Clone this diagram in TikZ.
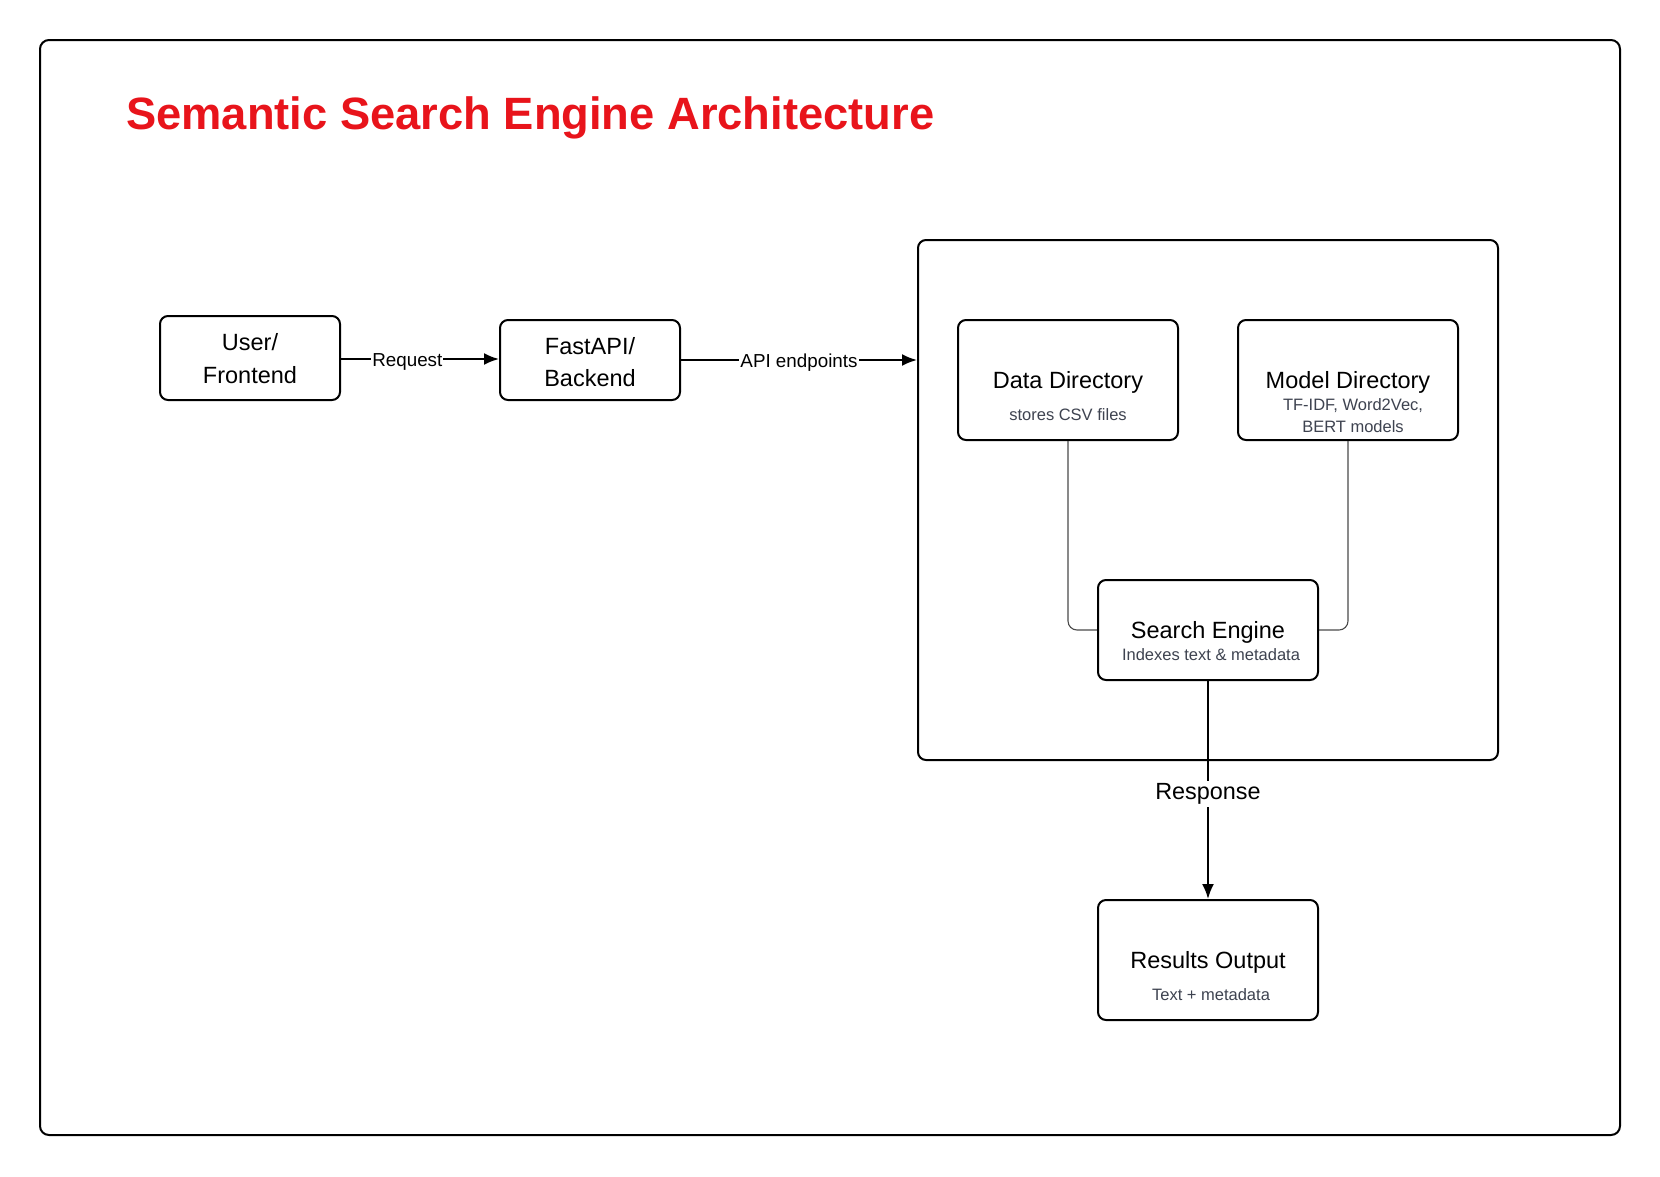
\documentclass[tikz,border=0pt]{standalone}
\usepackage{fontspec}
\setmainfont{Liberation Sans}
\usetikzlibrary{arrows.meta}
\definecolor{titlered}{HTML}{E8141B}
\definecolor{subgray}{HTML}{3E4350}
\definecolor{linegray}{HTML}{4A4A4A}
\begin{document}
\begin{tikzpicture}[x=1pt,y=-1pt,
  box/.style={draw=black, line width=2pt, rounded corners=8pt, inner sep=0pt, fill=white},
  maintext/.style={font=\fontsize{23.5}{28}\selectfont, inner sep=0pt, anchor=base},
  subtext/.style={font=\fontsize{16.5}{20}\selectfont, text=subgray, inner sep=0pt, anchor=base},
  flow/.style={draw=black, line width=2pt, -{Latex[length=15pt,width=12pt]}},
  feed/.style={draw=linegray, line width=1.1pt, rounded corners=9pt},
  elabel/.style={fill=white, inner sep=1pt, font=\fontsize{18.8}{22}\selectfont, yshift=-2.5pt}
]
\useasboundingbox (0,0) rectangle (1660,1176);
% outer frame
\node[draw=black, line width=2pt, rounded corners=9pt, minimum width=1580pt, minimum height=1095pt, inner sep=0pt] (frame) at (830,587.5) {};
% title
\node[anchor=base west, inner sep=0pt, text=titlered, font=\fontsize{45.3}{52}\selectfont\bfseries] (title) at (126,129) {Semantic Search Engine Architecture};

% container
\node[box, minimum width=580pt, minimum height=520pt] (cont) at (1208,500) {};

% boxes
\node[box, minimum width=180pt, minimum height=84pt] (uf) at (250,358) {};
\node[maintext] (uf1) at (250,350) {User/};
\node[maintext] (uf2) at (250,383) {Frontend};

\node[box, minimum width=180pt, minimum height=80pt] (fb) at (590,360) {};
\node[maintext] (fb1) at (590,354) {FastAPI/};
\node[maintext] (fb2) at (590,386) {Backend};

\node[box, minimum width=220pt, minimum height=120pt] (dd) at (1068,380) {};
\node[maintext] (dd1) at (1068,388) {Data Directory};
\node[subtext] (dd2) at (1068,420) {stores CSV files};

\node[box, minimum width=220pt, minimum height=120pt] (md) at (1348,380) {};
\node[maintext] (md1) at (1348,388) {Model Directory};
\node[subtext] (md2) at (1353,410) {TF-IDF, Word2Vec,};
\node[subtext] (md3) at (1353,432) {BERT models};

% feeds into search engine (drawn before box)
\draw[feed] (dd.south) |- (1098,630) coordinate (sew);
\draw[feed] (md.south) |- (1318,630) coordinate (see);

\node[box, minimum width=220pt, minimum height=100pt] (se) at (1208,630) {};
\node[maintext] (se1) at (1208,638) {Search Engine};
\node[subtext] (se2) at (1211,660) {Indexes text \& metadata};

\node[box, minimum width=220pt, minimum height=120pt] (ro) at (1208,960) {};
\node[maintext] (ro1) at (1208,968) {Results Output};
\node[subtext] (ro2) at (1211,1000) {Text + metadata};

% connectors
\draw[flow] (uf.east |- 0,359) -- node[elabel, pos=0.42] (lreq) {Request} (fb.west |- 0,359);
\draw[flow] (fb.east) -- node[elabel, pos=0.5] (lapi) {API endpoints} (fb.east -| cont.west);
\draw[flow] (se.south) -- node[elabel, font=\fontsize{23.4}{27}\selectfont, inner sep=3pt, yshift=-1.5pt] (lresp) {Response} (ro.north);
\end{tikzpicture}
\end{document}
